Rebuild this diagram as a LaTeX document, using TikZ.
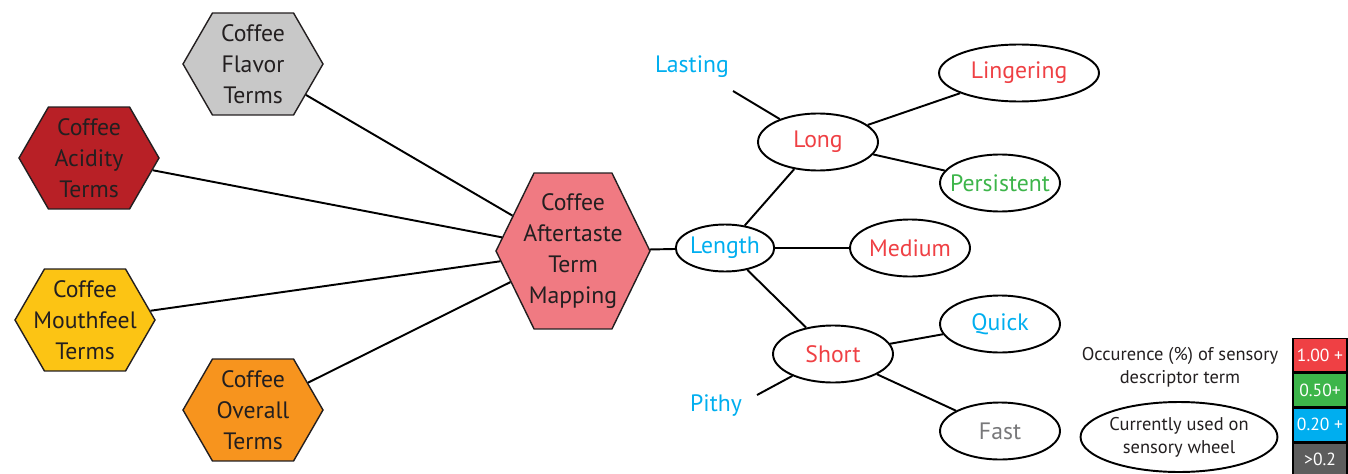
\documentclass[tikz,border=0pt]{standalone}
\usepackage{fontspec}
\setmainfont{PT Sans}
\usetikzlibrary{shapes.symbols, shapes.geometric, positioning}

\definecolor{flavorgray}{RGB}{200,200,200}
\definecolor{acidred}{RGB}{184,32,38}
\definecolor{mouthyellow}{RGB}{252,196,20}
\definecolor{overallorange}{RGB}{247,148,30}
\definecolor{afterpink}{RGB}{240,122,130}
\definecolor{termred}{RGB}{239,64,68}
\definecolor{termgreen}{RGB}{61,181,74}
\definecolor{termblue}{RGB}{0,174,239}
\definecolor{termgray}{RGB}{120,120,122}
\definecolor{darkbox}{RGB}{93,93,93}
\definecolor{ink}{RGB}{35,31,32}

\begin{document}
\begin{tikzpicture}[x = 0.02cm, y = -0.02cm, % one unit is one pixel
                line width = 1.1pt, % line style
                font = \fontsize{13.5}{17.6}\selectfont
            ]

            \tikzstyle{hexa}=[signal, signal to = west and east, signal pointer angle = 120,
            draw = ink, line width = 0.8pt, text = ink, align = center, inner ysep = 0pt,
            inner xsep = -0.35cm, minimum width = 2.8cm, minimum height = 2.04cm]
            \tikzstyle{term}=[ellipse, draw = black, inner sep = 0pt,
            minimum width = 2.4cm, minimum height = 1.14cm]
            \tikzstyle{legendbox}=[draw = black, line width = 0.8pt, text = white,
            minimum width = 1.08cm, minimum height = 0.67cm, inner sep = 0pt,
            font = \fontsize{10}{12}\selectfont]

            \useasboundingbox (0,0) rectangle (1348,473);

            % hexagons
            \node (flavor) [hexa, fill = flavorgray] at (253,64) {Coffee\\Flavor\\Terms};
            \node (acidity) [hexa, fill = acidred] at (89,158) {Coffee\\Acidity\\Terms};
            \node (mouthfeel) [hexa, fill = mouthyellow] at (85,320) {Coffee\\Mouthfeel\\Terms};
            \node (overall) [hexa, fill = overallorange] at (253,410) {Coffee\\Overall\\Terms};
            \node (aftertaste) [hexa, fill = afterpink, signal pointer angle = 128,
                minimum width = 3.08cm, minimum height = 3.12cm] at (573,251)
                {Coffee\\Aftertaste\\Term\\Mapping};

            % descriptor terms
            \node (length) [term, minimum width = 1.88cm, minimum height = 0.94cm,
                text = termblue] at (725,248) {Length};
            \node (long) [term, text = termred] at (818,142) {Long};
            \node (lingering) [term, minimum width = 3.2cm, text = termred] at (1019,73) {Lingering};
            \node (persistent) [term, inner xsep = -0.25cm, text = termgreen] at (1000,183) {Persistent};
            \node (medium) [term, text = termred] at (910,248) {Medium};
            \node (short) [term, text = termred] at (833,354) {Short};
            \node (quick) [term, text = termblue] at (1000,324) {Quick};
            \node (fast) [term, text = termgray] at (1000,431) {Fast};

            \node (lasting) [text = termblue] at (692,67) {Lasting};
            \coordinate (lastingend) at (733,91);
            \node (pithy) [text = termblue] at (716,406) {Pithy};
            \coordinate (pithyend) at (757,395);

            % legend
            \node (occurence) [align = center, text = ink, font = \fontsize{10.5}{13}\selectfont]
                at (1180,367) {Occurence (\%) of sensory\\descriptor term};
            \node (wheel) [term, minimum width = 3.9cm, minimum height = 1.4cm, text = ink,
                align = center, font = \fontsize{10.5}{13}\selectfont] at (1179,437)
                {Currently used on\\sensory wheel};
            \node (high) [legendbox, fill = termred] at (1320,355) {1.00 +};
            \node (mid) [legendbox, fill = termgreen, below = 0pt of high] {0.50+};
            \node (low) [legendbox, fill = termblue, below = 0pt of mid] {0.20 +};
            \node (rare) [legendbox, fill = darkbox, below = 0pt of low] {>0.2};

            \path (flavor) edge (aftertaste); \path (acidity) edge (aftertaste);
            \path (mouthfeel) edge (aftertaste); \path (overall) edge (aftertaste);
            \path (aftertaste) edge (length); \path (length) edge (long);
            \path (length) edge (medium); \path (length) edge (short);
            \path (long) edge (lingering); \path (long) edge (persistent);
            \path (short) edge (quick); \path (short) edge (fast);
            \path (lastingend) edge (long); \path (pithyend) edge (short);
        \end{tikzpicture}
\end{document}
